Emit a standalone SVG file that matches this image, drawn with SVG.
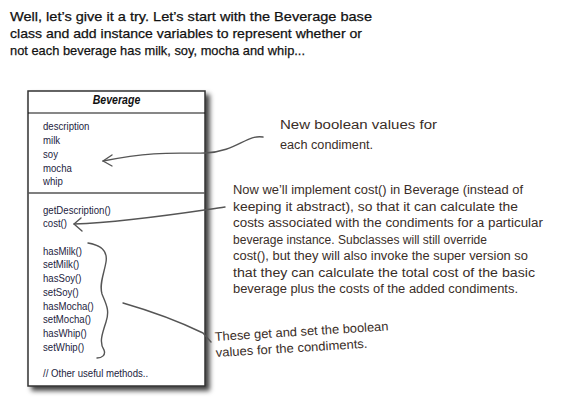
<svg xmlns="http://www.w3.org/2000/svg" width="562" height="407" viewBox="0 0 562 407">
<defs>
<filter id="shadow" x="-10%" y="-10%" width="130%" height="130%">
<feDropShadow dx="4" dy="4" stdDeviation="2.5" flood-color="#000" flood-opacity="0.75"/>
</filter>
<style>
.intro{font-family:"Liberation Sans",Arial,sans-serif;font-size:13.5px;fill:#111;stroke:#111;stroke-width:0.25}
.uml{font-family:"Liberation Sans",Arial,sans-serif;font-size:10.8px;fill:#1c2340}
.title{font-family:"Liberation Sans",Arial,sans-serif;font-size:12px;font-weight:bold;font-style:italic;fill:#111}
.note{font-family:"Liberation Sans",Arial,sans-serif;font-size:12.5px;fill:#3a2e28}
.conn{fill:none;stroke:#555;stroke-width:1.4;stroke-linecap:round;stroke-linejoin:round}
</style>
</defs>
<rect width="562" height="407" fill="#fff"/>
<g id="intro">
<text class="intro" x="10" y="21" textLength="362" lengthAdjust="spacingAndGlyphs">Well, let’s give it a try.  Let’s start with the Beverage base</text>
<text class="intro" x="10" y="38" textLength="352" lengthAdjust="spacingAndGlyphs">class and add instance variables to represent whether or</text>
<text class="intro" x="10" y="55" textLength="295" lengthAdjust="spacingAndGlyphs">not each beverage has milk, soy, mocha and whip...</text>
</g>
<g id="beverage">
<rect x="28" y="91" width="177" height="295" fill="#fff" stroke="#333" stroke-width="1.5" filter="url(#shadow)"/>
<line x1="28" y1="113" x2="205" y2="113" stroke="#111" stroke-width="1.2"/>
<line x1="28" y1="193" x2="205" y2="193" stroke="#555" stroke-width="1.6"/>
<text class="title" x="116.5" y="104.5" text-anchor="middle" transform="translate(116.5,0) scale(0.88,1) translate(-116.5,0)">Beverage</text>
<g transform="translate(43,0) scale(0.89,1) translate(-43,0)">
<text class="uml" x="43" y="130">description</text>
<text class="uml" x="43" y="144">milk</text>
<text class="uml" x="43" y="158">soy</text>
<text class="uml" x="43" y="172">mocha</text>
<text class="uml" x="43" y="185">whip</text>
<text class="uml" x="43" y="214">getDescription()</text>
<text class="uml" x="43" y="227">cost()</text>
<text class="uml" x="43" y="255">hasMilk()</text>
<text class="uml" x="43" y="268">setMilk()</text>
<text class="uml" x="43" y="282">hasSoy()</text>
<text class="uml" x="43" y="296">setSoy()</text>
<text class="uml" x="43" y="310">hasMocha()</text>
<text class="uml" x="43" y="323">setMocha()</text>
<text class="uml" x="43" y="337">hasWhip()</text>
<text class="uml" x="43" y="351">setWhip()</text>
<text class="uml" x="43" y="377">// Other useful methods..</text>
</g>
</g>
<g id="note-booleans">
<text class="note" x="280" y="129" textLength="157" lengthAdjust="spacingAndGlyphs">New boolean values for</text>
<text class="note" x="280" y="149" textLength="93" lengthAdjust="spacingAndGlyphs">each condiment.</text>
</g>
<g id="note-cost">
<text class="note" x="233" y="194" textLength="290" lengthAdjust="spacingAndGlyphs">Now we’ll implement cost() in Beverage (instead of</text>
<text class="note" x="233" y="210.5" textLength="285" lengthAdjust="spacingAndGlyphs">keeping it abstract), so that it can calculate the</text>
<text class="note" x="233" y="227" textLength="310" lengthAdjust="spacingAndGlyphs">costs associated with the condiments for a particular</text>
<text class="note" x="233" y="243.5" textLength="254" lengthAdjust="spacingAndGlyphs">beverage instance. Subclasses will still override</text>
<text class="note" x="233" y="260" textLength="295" lengthAdjust="spacingAndGlyphs">cost(), but they will also invoke the super version so</text>
<text class="note" x="233" y="276.5" textLength="302" lengthAdjust="spacingAndGlyphs">that they can calculate the total cost of the basic</text>
<text class="note" x="233" y="293" textLength="285" lengthAdjust="spacingAndGlyphs">beverage plus the costs of the added condiments.</text>
</g>
<g id="note-getset">
<text class="note" x="215" y="341" textLength="174" lengthAdjust="spacingAndGlyphs" transform="rotate(-3.5 215 341)">These get and set the boolean</text>
<text class="note" x="216" y="357" textLength="152" lengthAdjust="spacingAndGlyphs" transform="rotate(-3.5 216 357)">values for the condiments.</text>
</g>
<g id="connectors">
<path class="conn" d="M263,137 C247,134 236,152 205,153 C180,154 160,150 103,161"/>
<path class="conn" d="M112,155 L103,161 L112,166"/>
<path class="conn" d="M225,207 C190,212 130,222 74,224"/>
<path class="conn" d="M81,218 L74,224 L82,231"/>
<path class="conn" d="M88,243 C100,245 108,250 106,262 C104,274 99,284 102,294 C106,304 110,310 106,322 C102,334 99,343 104,350 C106,355 102,358 97,358"/>
<path class="conn" d="M123,303 Q168,316 203,333 L211,342"/>
</g>
</svg>
